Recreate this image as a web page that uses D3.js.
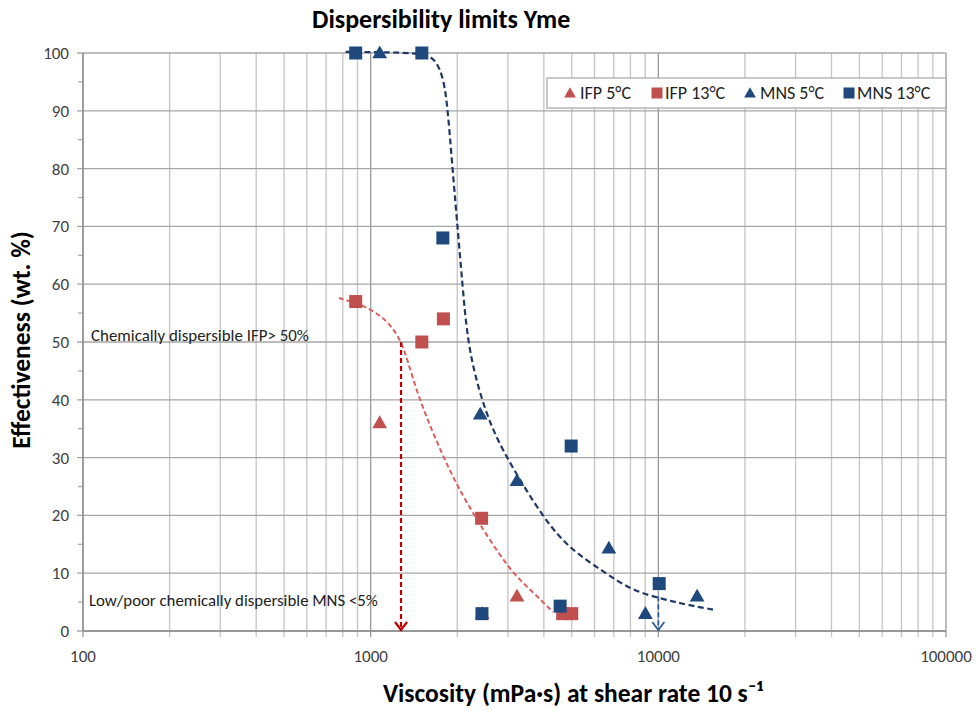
<!DOCTYPE html>
<html><head><meta charset="utf-8">
<script src="https://cdn.jsdelivr.net/npm/d3@7"></script>
<style>
html,body{margin:0;padding:0;background:#fff;}
text{font-family:Carlito, Lato, "Open Sans", sans-serif;}
</style></head>
<body><svg id="c" width="976" height="711"></svg>
<script>
// ---- data ----
const ifp5 = [[1075, 36], [3225, 6], [2440, 3]];
const ifp13 = [[887, 57], [1506, 50], [1790, 54], [2430, 19.5], [4650, 3], [5000, 3]];
const mns5 = [[1075, 100], [2404, 37.5], [3225, 26], [6730, 14.3], [9015, 3], [13640, 6]];
const mns13 = [[887, 100], [1506, 100], [1782, 68], [4977, 32], [2437, 3], [4557, 4.3], [10070, 8.2]];
const mnsTrend = [[818, 100.2], [1506, 100.1], [1685, 99], [1797, 95.4], [1854, 90.2], [1920, 80.7], [1994, 71.2], [2087, 59.6], [2173, 50], [2354, 42.3], [2619, 35.4], [2995, 29.6], [4017, 19.2], [4977, 14], [6483, 10.2], [8054, 7.05], [10245, 5.6], [12320, 4.6], [15510, 3.7]];
const ifpTrend = [[775, 57.6], [948, 56.4], [1144, 53.8], [1273, 50.3], [1342, 46.9], [1454, 41.1], [1619, 35.1], [1800, 29.9], [2005, 25], [2322, 19.5], [3034, 10.5], [3610, 7.05], [4297, 3.3]];
const redArrow = [[1275, 50], [1275, 0]];
const blueArrow = [[10000, 6], [10000, 0]];
const yTicks = [0, 10, 20, 30, 40, 50, 60, 70, 80, 90, 100];
const xTickLabels = [100, 1000, 10000, 100000];
const legendItems = [["IFP 5°C", "tri", "red"], ["IFP 13°C", "sq", "red"], ["MNS 5°C", "tri", "blue"], ["MNS 13°C", "sq", "blue"]];

// ---- drawing ----
const svg = d3.select("#c");
const L = 83, R = 946, T = 53, B = 631;
const x = d3.scaleLog().domain([100, 100000]).range([L, R]);
const y = d3.scaleLinear().domain([0, 100]).range([B, T]);
const RED = "#C0504D", BLUE = "#1F497D";
const colors = {red: RED, blue: BLUE};

// vertical gridlines
const vgrid = [];
[100, 1000, 10000].forEach(d => { for (let k = 1; k <= 9; k++) vgrid.push([k * d, k === 1]); });
vgrid.push([100000, true]);
svg.append("g").selectAll("line").data(vgrid).join("line")
  .attr("x1", d => x(d[0])).attr("x2", d => x(d[0]))
  .attr("y1", T).attr("y2", B + 6)
  .attr("stroke", d => d[1] ? "#9a9a9a" : "#c4c4c4").attr("stroke-width", 1.3);
// horizontal gridlines
svg.append("g").selectAll("line").data(yTicks).join("line")
  .attr("x1", L - 6).attr("x2", R)
  .attr("y1", d => y(d)).attr("y2", d => y(d))
  .attr("stroke", "#a6a6a6").attr("stroke-width", 1.3);
// minor y ticks
svg.append("g").selectAll("line").data(d3.range(5, 100, 10)).join("line")
  .attr("x1", L - 5).attr("x2", L)
  .attr("y1", d => y(d)).attr("y2", d => y(d))
  .attr("stroke", "#a6a6a6").attr("stroke-width", 1.2);
// axis lines
svg.append("line").attr("x1", L).attr("x2", L).attr("y1", T).attr("y2", B).attr("stroke", "#8c8c8c").attr("stroke-width", 1.3);
svg.append("line").attr("x1", L).attr("x2", R).attr("y1", B).attr("y2", B).attr("stroke", "#8c8c8c").attr("stroke-width", 1.3);

// tick labels
svg.append("g").selectAll("text").data(yTicks).join("text")
  .attr("x", L - 14).attr("y", d => y(d) + 6).attr("text-anchor", "end")
  .attr("font-size", 17).attr("fill", "#404040").text(d => d);
svg.append("g").selectAll("text").data(xTickLabels).join("text")
  .attr("x", d => x(d)).attr("y", B + 31).attr("text-anchor", "middle")
  .attr("font-size", 17).attr("fill", "#404040").text(d => d);

// titles
svg.append("text").attr("x", 312).attr("y", 28).attr("text-anchor", "start")
  .attr("font-size", 26).attr("font-weight", "bold").attr("fill", "#000").text("Dispersibility limits Yme");
svg.append("text").attr("x", 383).attr("y", 702).attr("text-anchor", "start")
  .attr("font-size", 25.5).attr("font-weight", "bold").attr("fill", "#000").text("Viscosity (mPa·s) at shear rate 10 s⁻¹");
svg.append("text").attr("transform", "translate(30,340) rotate(-90)").attr("text-anchor", "middle")
  .attr("font-size", 25.5).attr("font-weight", "bold").attr("fill", "#000").text("Effectiveness (wt. %)");

// annotations
svg.append("text").attr("x", 91).attr("y", 341).attr("font-size", 16.9).attr("fill", "#222").text("Chemically dispersible IFP> 50%");
svg.append("text").attr("x", 89).attr("y", 606).attr("font-size", 16.8).attr("fill", "#222").text("Low/poor chemically dispersible MNS <5%");

// trend lines
const line = d3.line().x(d => x(d[0])).y(d => y(d[1])).curve(d3.curveBasis);
svg.append("path").datum(ifpTrend).attr("d", line).attr("fill", "none")
  .attr("stroke", "#D9605D").attr("stroke-width", 2).attr("stroke-dasharray", "5,3");
svg.append("path").datum(mnsTrend).attr("d", line).attr("fill", "none")
  .attr("stroke", "#1F3864").attr("stroke-width", 2.2).attr("stroke-dasharray", "6,3.5");

// arrows
const sline = d3.line().x(d => x(d[0])).y(d => y(d[1]));
function arrow(data, col, w) {
  svg.append("path").datum(data).attr("d", sline).attr("fill", "none")
    .attr("stroke", col).attr("stroke-width", w).attr("stroke-dasharray", "5,3");
  const ex = x(data[1][0]), ey = y(data[1][1]);
  svg.append("path").attr("d", `M${ex - 6},${ey - 9}L${ex},${ey - 1}L${ex + 6},${ey - 9}`)
    .attr("fill", "none").attr("stroke", col).attr("stroke-width", w);
}
arrow(redArrow, "#C00000", 2.2);
arrow(blueArrow, "#2E5C9A", 1.8);

// markers
const sq = 13, tri = d3.symbol().type(d3.symbolTriangle).size(95);
function squares(data, col) {
  svg.append("g").selectAll("rect").data(data).join("rect")
    .attr("x", d => x(d[0]) - sq / 2).attr("y", d => y(d[1]) - sq / 2)
    .attr("width", sq).attr("height", sq).attr("fill", col);
}
function triangles(data, col) {
  svg.append("g").selectAll("path").data(data).join("path")
    .attr("d", tri).attr("transform", d => `translate(${x(d[0])},${y(d[1]) + 1})`).attr("fill", col);
}
triangles(ifp5, RED);
triangles(mns5, BLUE);
squares(ifp13, RED);
squares(mns13, BLUE);

// legend
const lg = svg.append("g");
lg.append("rect").attr("x", 547).attr("y", 78).attr("width", 399).attr("height", 30)
  .attr("fill", "#fff").attr("stroke", "#a6a6a6").attr("stroke-width", 1.2);
const lx = [570, 657, 750, 849];
legendItems.forEach((it, i) => {
  const g = lg.append("g").attr("transform", `translate(${lx[i]},93)`);
  if (it[1] === "sq") g.append("rect").attr("x", -5.5).attr("y", -5.5).attr("width", 11).attr("height", 11).attr("fill", colors[it[2]]);
  else g.append("path").attr("d", d3.symbol().type(d3.symbolTriangle).size(60)).attr("transform", "translate(0,1)").attr("fill", colors[it[2]]);
  g.append("text").attr("x", it[1] === "sq" ? 8 : 10).attr("y", 6).attr("font-size", 18).attr("fill", "#222").text(it[0]);
});
</script></body></html>
